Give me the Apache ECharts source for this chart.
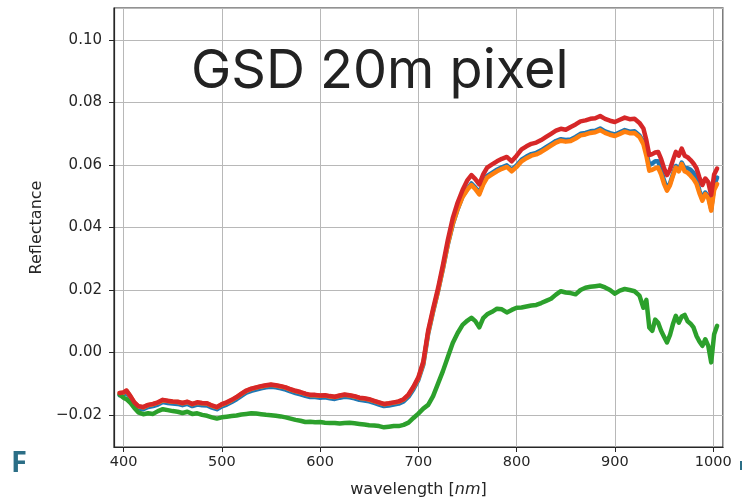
<!DOCTYPE html>
<html>
<head>
<meta charset="utf-8">
<script src="https://cdn.jsdelivr.net/npm/echarts@6/dist/echarts.min.js"></script>
<style>
html,body{margin:0;padding:0;background:#fff;}
#chart{width:742px;height:503px;}
</style>
</head>
<body>
<div id="chart"></div>
<script>
var wavelengths = [396,400,403,407,411,415,
420,425,430,435,440,445,450,455,460,465,
470,475,480,485,490,495,500,505,510,515,
520,525,530,535,540,545,550,555,560,565,
570,575,580,585,590,595,600,605,610,615,
620,625,630,635,640,645,650,655,660,665,
670,675,680,685,690,695,700,705,710,715,
720,725,730,735,740,745,750,
754,758,762,766,770,
775,780,785,790,795,800,805,810,815,820,
825,830,835,840,845,850,855,860,865,870,
875,880,885,890,895,900,905,910,915,920,925,
929,
932,935,938,941,944,947,950,953,956,959,
962,965,968,971,974,977,980,983,986,989,
992,995,998,1001,1004];

var blueValues = [-0.0137,-0.0135,-0.0129,-0.0147,-0.0167,-0.0179,
-0.0182,-0.0175,-0.0172,-0.0167,-0.0159,-0.0162,-0.0164,-0.0165,-0.0169,-0.0165,
-0.0172,-0.0167,-0.0169,-0.0170,-0.0177,-0.0182,-0.0173,-0.0167,-0.0159,-0.0150,
-0.0139,-0.0129,-0.0123,-0.0119,-0.0115,-0.0112,-0.0110,-0.0112,-0.0115,-0.0119,
-0.0125,-0.0130,-0.0134,-0.0139,-0.0143,-0.0143,-0.0145,-0.0144,-0.0147,-0.0149,
-0.0145,-0.0142,-0.0144,-0.0147,-0.0152,-0.0154,-0.0157,-0.0162,-0.0167,-0.0172,
-0.0170,-0.0167,-0.0164,-0.0157,-0.0142,-0.0118,-0.0088,-0.0040,0.0060,0.0130,
0.0196,0.0268,0.0346,0.0410,0.0459,0.0500,0.0524,
0.0541,0.0528,0.0511,0.0543,0.0565,
0.0575,0.0585,0.0593,0.0599,0.0585,0.0599,0.0617,0.0627,0.0635,0.0639,
0.0647,0.0657,0.0667,0.0677,0.0683,0.0680,0.0682,0.0690,0.0700,0.0703,
0.0708,0.0710,0.0717,0.0708,0.0702,0.0698,0.0705,0.0712,0.0707,0.0708,0.0695,
0.0675,
0.0640,0.0600,0.0605,0.0612,0.0612,0.0585,0.0550,0.0525,0.0540,0.0570,
0.0597,0.0585,0.0608,0.0590,0.0590,0.0585,0.0575,0.0555,0.0518,0.0492,
0.0512,0.0500,0.0460,0.0535,0.0560];

var orangeValues = [-0.0131,-0.0129,-0.0123,-0.0141,-0.0161,-0.0173,
-0.0176,-0.0169,-0.0166,-0.0161,-0.0153,-0.0156,-0.0158,-0.0159,-0.0163,-0.0159,
-0.0166,-0.0161,-0.0163,-0.0164,-0.0171,-0.0176,-0.0167,-0.0161,-0.0153,-0.0144,
-0.0133,-0.0123,-0.0117,-0.0113,-0.0109,-0.0106,-0.0104,-0.0106,-0.0109,-0.0113,
-0.0119,-0.0124,-0.0128,-0.0133,-0.0137,-0.0137,-0.0139,-0.0138,-0.0141,-0.0143,
-0.0139,-0.0136,-0.0138,-0.0141,-0.0146,-0.0148,-0.0151,-0.0156,-0.0161,-0.0166,
-0.0164,-0.0161,-0.0158,-0.0151,-0.0136,-0.0112,-0.0083,-0.0035,0.0064,0.0133,
0.0197,0.0270,0.0348,0.0412,0.0460,0.0498,0.0522,
0.0536,0.0523,0.0506,0.0538,0.0560,
0.0570,0.0580,0.0588,0.0594,0.0580,0.0594,0.0612,0.0622,0.0630,0.0634,
0.0642,0.0652,0.0662,0.0672,0.0678,0.0675,0.0677,0.0685,0.0695,0.0698,
0.0703,0.0705,0.0712,0.0703,0.0697,0.0693,0.0700,0.0707,0.0702,0.0703,0.0690,
0.0667,
0.0630,0.0582,0.0585,0.0590,0.0592,0.0570,0.0540,0.0518,0.0535,0.0565,
0.0592,0.0580,0.0603,0.0580,0.0575,0.0566,0.0555,0.0540,0.0510,0.0486,
0.0507,0.0495,0.0454,0.0520,0.0539];

var greenValues = [-0.0135,-0.0145,-0.0150,-0.0162,-0.0178,-0.0192,
-0.0198,-0.0195,-0.0197,-0.0188,-0.0182,-0.0185,-0.0188,-0.0190,-0.0194,-0.0190,
-0.0197,-0.0195,-0.0200,-0.0203,-0.0208,-0.0212,-0.0208,-0.0206,-0.0204,-0.0202,
-0.0199,-0.0197,-0.0195,-0.0196,-0.0198,-0.0200,-0.0201,-0.0203,-0.0205,-0.0208,
-0.0212,-0.0216,-0.0219,-0.0223,-0.0222,-0.0224,-0.0223,-0.0225,-0.0226,-0.0226,
-0.0228,-0.0226,-0.0225,-0.0227,-0.0229,-0.0231,-0.0233,-0.0234,-0.0236,-0.0240,
-0.0238,-0.0236,-0.0236,-0.0232,-0.0225,-0.0210,-0.0196,-0.0180,-0.0168,-0.0140,
-0.0100,-0.0060,-0.0015,0.0030,0.0062,0.0088,0.0102,
0.0111,0.0100,0.0080,0.0110,0.0122,
0.0130,0.0140,0.0138,0.0128,0.0136,0.0143,0.0144,0.0147,0.0150,0.0152,
0.0158,0.0165,0.0172,0.0185,0.0196,0.0192,0.0190,0.0186,0.0200,0.0207,
0.0210,0.0212,0.0214,0.0208,0.0200,0.0188,0.0198,0.0203,0.0200,0.0196,0.0182,
0.0143,
0.0168,0.0080,0.0069,0.0105,0.0095,0.0069,0.0050,0.0032,0.0055,0.0090,
0.0117,0.0095,0.0115,0.0120,0.0100,0.0092,0.0080,0.0053,0.0035,0.0021,
0.0042,0.0021,-0.0032,0.0058,0.0085];

var redValues = [-0.0130,-0.0128,-0.0122,-0.0140,-0.0160,-0.0172,
-0.0175,-0.0168,-0.0165,-0.0160,-0.0152,-0.0155,-0.0157,-0.0158,-0.0162,-0.0158,
-0.0165,-0.0160,-0.0162,-0.0163,-0.0170,-0.0175,-0.0166,-0.0160,-0.0152,-0.0143,
-0.0132,-0.0122,-0.0116,-0.0112,-0.0108,-0.0105,-0.0103,-0.0105,-0.0108,-0.0112,
-0.0118,-0.0123,-0.0127,-0.0132,-0.0136,-0.0136,-0.0138,-0.0137,-0.0140,-0.0142,
-0.0138,-0.0135,-0.0137,-0.0140,-0.0145,-0.0147,-0.0150,-0.0155,-0.0160,-0.0165,
-0.0163,-0.0160,-0.0157,-0.0150,-0.0135,-0.0110,-0.0080,-0.0030,0.0070,0.0140,
0.0205,0.0280,0.0360,0.0430,0.0480,0.0520,0.0552,
0.0568,0.0555,0.0538,0.0570,0.0592,
0.0602,0.0612,0.0620,0.0626,0.0612,0.0630,0.0650,0.0660,0.0668,0.0672,
0.0680,0.0690,0.0700,0.0710,0.0716,0.0713,0.0722,0.0730,0.0740,0.0743,
0.0748,0.0750,0.0757,0.0748,0.0742,0.0738,0.0745,0.0752,0.0747,0.0748,0.0735,
0.0717,
0.0680,0.0632,0.0635,0.0640,0.0642,0.0620,0.0590,0.0568,0.0585,0.0615,
0.0642,0.0630,0.0653,0.0630,0.0625,0.0616,0.0605,0.0590,0.0560,0.0536,
0.0557,0.0545,0.0504,0.0570,0.0589];

var titleText = 'GSD 20m pixel';
var xName = 'wavelength [{i|nm}]';
var yName = 'Reflectance';

function pairs(vals){ return wavelengths.map(function(w,i){ return [w, vals[i]]; }); }

var axisFont = 'DejaVu Sans';
var ink = '#262626';

var chart = echarts.init(document.getElementById('chart'), null, {renderer:'canvas'});
function line(name, color, vals, z){
  return {name:name, type:'line', data:pairs(vals), showSymbol:false, symbol:'none',
    smooth:false, z:z, lineStyle:{color:color, width:4.5, join:'round', cap:'round'},
    itemStyle:{color:color}, animation:false};
}
chart.setOption({
  animation:false,
  backgroundColor:'#fff',
  grid:{left:114, top:8, width:609, height:441, show:true, borderColor:ink, borderWidth:1.2, backgroundColor:'transparent'},
  xAxis:{type:'value', min:390.3, max:1010, splitNumber:6, minInterval:100, maxInterval:100,
    name:xName, nameLocation:'middle', nameGap:35,
    nameTextStyle:{fontFamily:axisFont, fontSize:16, color:ink, rich:{i:{fontStyle:'italic', fontFamily:axisFont, fontSize:16, color:ink}}},
    axisLine:{show:true, onZero:false, lineStyle:{color:ink, width:1.2}},
    axisTick:{show:true, inside:false, length:5, lineStyle:{color:ink, width:1}},
    axisLabel:{show:true, margin:8, fontFamily:axisFont, fontSize:14.5, color:ink, showMinLabel:false, showMaxLabel:false,
      formatter:function(v){ return String(Math.round(v)); }},
    splitLine:{show:true, lineStyle:{color:'#b8b8b8', width:1}}
  },
  yAxis:{type:'value', min:-0.0303, max:0.1103, splitNumber:7, minInterval:0.02, maxInterval:0.02,
    name:yName, nameLocation:'middle', nameGap:69,
    nameTextStyle:{fontFamily:axisFont, fontSize:16, color:ink},
    axisLine:{show:true, onZero:false, lineStyle:{color:ink, width:1.2}},
    axisTick:{show:true, inside:false, length:5, lineStyle:{color:ink, width:1}},
    axisLabel:{show:true, margin:12, fontFamily:axisFont, fontSize:15, color:ink, showMinLabel:false, showMaxLabel:false,
      formatter:function(v){ var s=Math.abs(v).toFixed(2); return (v < -1e-9 ? '\u2212' : '') + s; }},
    splitLine:{show:true, lineStyle:{color:'#b8b8b8', width:1}}
  },
  series:[
    line('blue', '#1f77b4', blueValues, 2),
    line('orange', '#ff7f0e', orangeValues, 3),
    line('green', '#2ca02c', greenValues, 4),
    line('red', '#d62728', redValues, 5)
  ],
  graphic:[
    {type:'text', left:191, top:45, z:100, style:{text:titleText, fontFamily:'Inter', fontSize:54, fill:'#222'}},
    {type:'text', left:11, top:449, z:100, style:{text:'F', fontFamily:'Open Sans', fontWeight:'bold', fontSize:29, fill:'#2b6e86'}},
    {type:'rect', shape:{x:740, y:461, width:2, height:9}, style:{fill:'#2b6e86'}, z:100}
  ]
});
</script>
</body>
</html>
